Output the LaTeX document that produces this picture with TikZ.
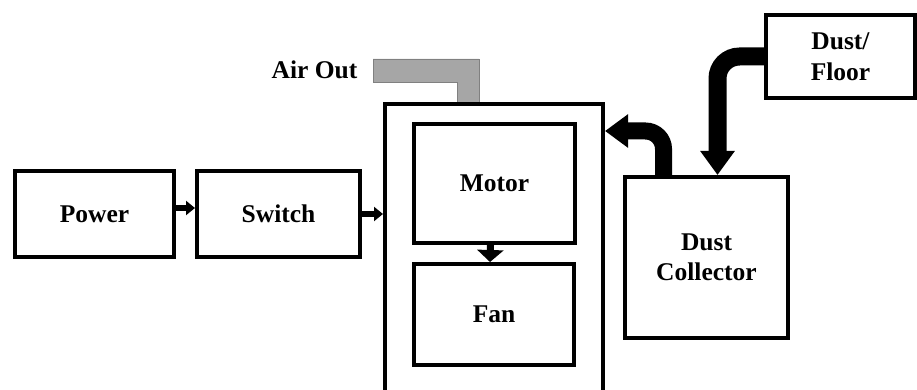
\documentclass[tikz,border=0pt]{standalone}
\usepackage{fontspec}
\setmainfont{Liberation Serif}
\usetikzlibrary{arrows.meta}
\definecolor{pipegray}{RGB}{166,166,166}
\definecolor{pipeedge}{RGB}{128,128,128}
\begin{document}
\begin{tikzpicture}[x=1pt,y=-1pt,
  lbl/.style={font=\bfseries\fontsize{25.5}{30.5}\selectfont,align=center},
  box/.style={draw,line width=4pt,rectangle,inner sep=0pt,lbl},
  smallarrow/.style={line width=6pt,-{Triangle[width=14pt,length=9pt]}},
  bigarrow/.style={line width=17pt,rounded corners=18pt,-{Triangle[width=32pt,length=23pt]}}]
\useasboundingbox (0,0) rectangle (917,390);
% air out pipe
\draw[fill=pipegray,draw=pipeedge,line width=0.8pt]
  (373,59) -- (479,59) -- (479,104) -- (457,104) -- (457,82) -- (373,82) -- cycle;
\node[lbl,anchor=base] (airout) at (314.5,79) {Air Out};
% boxes
\node[box,minimum width=218pt,minimum height=316pt] (big) at (494,262) {};
\node[box,minimum width=159pt,minimum height=86pt] (power) at (94.5,214) {Power};
\node[box,minimum width=163pt,minimum height=86pt] (switch) at (278.5,214) {Switch};
\node[box,minimum width=161pt,minimum height=119pt] (motor) at (494.5,183.5) {Motor};
\node[box,minimum width=160pt,minimum height=101pt] (fan) at (494,314.5) {Fan};
\node[box,minimum width=163pt,minimum height=161pt] (coll) at (706.5,257.5) {Dust\\Collector};
\node[box,minimum width=149pt,minimum height=83pt] (floor) at (840.5,56.5) {Dust/\\Floor};
% arrows
\draw[smallarrow] ([yshift=6pt]power.east) -- ([yshift=6pt]switch.west);
\draw[smallarrow] (switch.east) -- (switch.east -| big.west);
\draw[line width=7pt,-{Triangle[width=26pt,length=12pt]}] ([xshift=-4pt]motor.south) -- ([xshift=-4pt]fan.north);
\draw[bigarrow] ([xshift=-43pt]coll.north) |- ([yshift=-29pt]big.north east);
\draw[line width=18pt,rounded corners=22pt,-{Triangle[width=33pt,length=24pt]}] (floor.west) -| ([xshift=11pt]coll.north);
\end{tikzpicture}
\end{document}
